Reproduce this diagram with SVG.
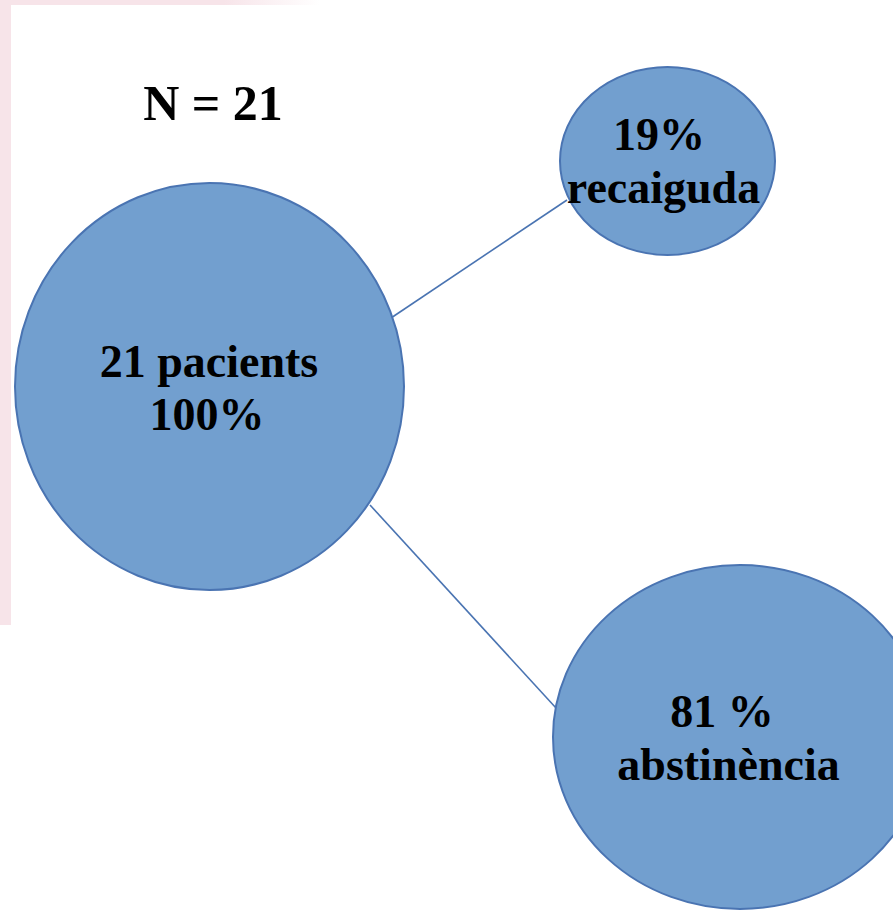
<svg xmlns="http://www.w3.org/2000/svg" width="893" height="911" viewBox="0 0 893 911">
<defs>
<linearGradient id="topfade" x1="0" y1="0" x2="1" y2="0">
<stop offset="0" stop-color="#f7e4e9"/>
<stop offset="0.7" stop-color="#f7e4e9"/>
<stop offset="1" stop-color="#ffffff"/>
</linearGradient>
</defs>
<style>
.node{fill:#729fcf;stroke:#4a74b2;stroke-width:2}
.lbl{font-family:"Liberation Serif","Times New Roman",serif;font-weight:bold;font-size:46px;fill:#000;text-anchor:middle}
.edge{stroke:#4a74b2;stroke-width:1.6;fill:none}
</style>
<rect width="893" height="911" fill="#ffffff"/>
<rect x="0" y="0" width="11" height="625" fill="#f7e4e9"/>
<rect x="0" y="0" width="320" height="5" fill="url(#topfade)"/>
<text class="lbl" x="213" y="120" style="font-size:50px">N = 21</text>
<g id="connectors">
<line class="edge" x1="391" y1="318" x2="567" y2="200"/>
<line class="edge" x1="370" y1="505" x2="556" y2="708"/>
</g>
<g id="n-total">
<ellipse class="node" cx="209.5" cy="386.5" rx="194.5" ry="203.5"/>
<text class="lbl" x="209" y="377">21 pacients</text>
<text class="lbl" x="207" y="430">100%</text>
</g>
<g id="n-recaiguda">
<ellipse class="node" cx="667.5" cy="161" rx="107.5" ry="94"/>
<text class="lbl" x="659" y="150">19%</text>
<text class="lbl" x="663.5" y="203">recaiguda</text>
</g>
<g id="n-abstinencia">
<ellipse class="node" cx="740" cy="737" rx="187" ry="172"/>
<text class="lbl" x="722" y="727">81 %</text>
<text class="lbl" x="728.5" y="780">abstinència</text>
</g>
</svg>
